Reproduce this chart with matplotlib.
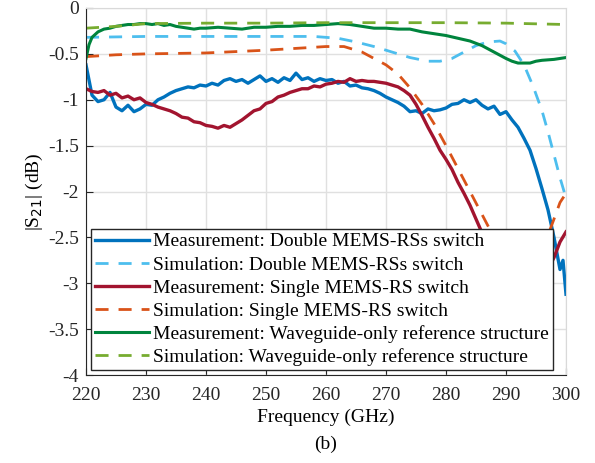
import matplotlib.pyplot as plt

plt.rcParams['font.family'] = ['Liberation Serif', 'DejaVu Serif']
plt.rcParams['axes.unicode_minus'] = False

# ----- data (frequency in GHz, |S21| in dB) -----
f_meas_double = [220, 221, 222, 223, 224, 225, 226, 227, 228, 229, 230, 231, 232, 233, 234,
                 235, 236, 237, 238, 239, 240, 241, 242, 243, 244, 245, 246, 247, 248, 249,
                 250, 251, 252, 253, 254, 255, 256, 257, 258, 259, 260, 261, 262, 263, 264,
                 265, 266, 267, 268, 269, 270, 271, 272, 273, 274, 275, 276, 277, 278, 279,
                 280, 281, 282, 283, 284, 285, 286, 287, 288, 289, 290, 291, 292, 293, 294,
                 295, 296, 297, 298, 299, 299.5, 300]
s21_meas_double = [-0.62, -0.95, -1.02, -1.00, -0.92, -1.08, -1.12, -1.06, -1.13, -1.10, -1.05,
                   -1.06, -1.00, -0.97, -0.93, -0.90, -0.88, -0.86, -0.87, -0.84, -0.85, -0.82,
                   -0.84, -0.79, -0.77, -0.80, -0.78, -0.82, -0.78, -0.74, -0.80, -0.77, -0.81,
                   -0.76, -0.79, -0.71, -0.78, -0.76, -0.80, -0.77, -0.79, -0.78, -0.82, -0.80,
                   -0.85, -0.84, -0.87, -0.88, -0.90, -0.93, -0.97, -1.00, -1.03, -1.07, -1.13,
                   -1.12, -1.15, -1.10, -1.12, -1.11, -1.09, -1.05, -1.04, -1.00, -1.03, -1.00,
                   -1.06, -1.10, -1.07, -1.16, -1.13, -1.22, -1.30, -1.42, -1.55, -1.75, -1.97,
                   -2.20, -2.50, -2.85, -2.75, -3.12]

f_sim_double = [220, 230, 240, 250, 258, 262, 265, 268, 271, 274, 277, 279, 281, 283, 285,
                287, 289, 290, 291.5, 293, 294.5, 296, 297, 298, 299, 300]
s21_sim_double = [-0.32, -0.31, -0.31, -0.31, -0.31, -0.33, -0.37, -0.42, -0.48, -0.54, -0.58,
                  -0.58, -0.55, -0.48, -0.41, -0.37, -0.36, -0.39, -0.47, -0.62, -0.85, -1.12,
                  -1.35, -1.60, -1.85, -2.07]

f_meas_single = list(range(220, 301))
s21_meas_single = [-0.88, -0.91, -0.92, -0.90, -0.95, -0.93, -0.98, -0.96, -1.00, -0.98, -1.03,
                   -1.05, -1.08, -1.10, -1.12, -1.15, -1.19, -1.20, -1.24, -1.25, -1.28, -1.29,
                   -1.31, -1.28, -1.30, -1.26, -1.22, -1.17, -1.12, -1.10, -1.04, -1.02, -0.97,
                   -0.95, -0.92, -0.90, -0.88, -0.88, -0.85, -0.86, -0.83, -0.82, -0.80, -0.81,
                   -0.77, -0.80, -0.79, -0.80, -0.80, -0.81, -0.82, -0.84, -0.86, -0.90, -0.95,
                   -1.05, -1.17, -1.30, -1.42, -1.55, -1.65, -1.76, -1.90, -2.02, -2.15, -2.30,
                   -2.45, -2.60, -2.75, -2.90, -3.00, -3.10, -3.15, -3.20, -3.20, -3.15, -3.05,
                   -2.85, -2.72, -2.55, -2.44]

f_sim_single = [220, 225, 230, 240, 250, 255, 260, 263, 266, 268, 270, 272, 274, 276, 278,
                280, 282, 284, 286, 288, 290, 292, 294, 296, 298, 299, 300]
s21_sim_single = [-0.53, -0.51, -0.50, -0.49, -0.46, -0.44, -0.42, -0.42, -0.48, -0.55, -0.62,
                  -0.72, -0.87, -1.05, -1.26, -1.50, -1.75, -2.00, -2.25, -2.50, -2.70, -2.80,
                  -2.80, -2.65, -2.30, -2.12, -2.02]

f_meas_wg = [220, 220.5, 221, 222, 223, 224, 225, 226, 227, 228, 229, 230, 231, 232, 233, 234,
             235, 236, 237, 238, 239, 240, 242, 244, 246, 248, 250, 252, 254, 256, 258, 260,
             262, 264, 266, 268, 270, 272, 274, 276, 278, 280, 282, 284, 286, 288, 290, 291,
             292, 293, 294, 295, 296, 298, 300]
s21_meas_wg = [-0.55, -0.40, -0.32, -0.26, -0.23, -0.22, -0.20, -0.19, -0.18, -0.18, -0.17,
               -0.17, -0.18, -0.17, -0.19, -0.18, -0.20, -0.21, -0.22, -0.23, -0.22, -0.22,
               -0.21, -0.22, -0.23, -0.21, -0.21, -0.20, -0.20, -0.19, -0.19, -0.18, -0.17,
               -0.18, -0.20, -0.22, -0.22, -0.23, -0.23, -0.26, -0.28, -0.30, -0.33, -0.36,
               -0.41, -0.48, -0.55, -0.58, -0.60, -0.60, -0.60, -0.58, -0.57, -0.56, -0.54]

f_sim_wg = [220, 225, 230, 240, 250, 260, 270, 280, 290, 300]
s21_sim_wg = [-0.22, -0.20, -0.17, -0.165, -0.165, -0.16, -0.16, -0.16, -0.165, -0.18]

xticks = [220, 230, 240, 250, 260, 270, 280, 290, 300]
yticks = [0, -0.5, -1, -1.5, -2, -2.5, -3, -3.5, -4]
ytick_labels = ['0', '-0.5', '-1', '-1.5', '-2', '-2.5', '-3', '-3.5', '-4']

# ----- plot -----
fig = plt.figure(figsize=(5.95, 4.63), dpi=100)
ax_left, ax_bottom, ax_w, ax_h = 86 / 595, 1 - 375 / 463, 480 / 595, 367 / 463
ax = fig.add_axes([ax_left, ax_bottom, ax_w, ax_h])

dash = (4.7, 3.6)
ax.plot(f_meas_double, s21_meas_double, color='#0072BD', lw=2.4,
        label='Measurement: Double MEMS-RSs switch')
ax.plot(f_sim_double, s21_sim_double, color='#4DBEEE', lw=2, dashes=dash,
        label='Simulation: Double MEMS-RSs switch')
ax.plot(f_meas_single, s21_meas_single, color='#A2142F', lw=2.4,
        label='Measurement: Single MEMS-RS switch')
ax.plot(f_sim_single, s21_sim_single, color='#D95319', lw=2, dashes=dash,
        label='Simulation: Single MEMS-RS switch')
ax.plot(f_meas_wg, s21_meas_wg, color='#00843D', lw=2.2,
        label='Measurement: Waveguide-only reference structure')
ax.plot(f_sim_wg, s21_sim_wg, color='#77AC30', lw=2, dashes=dash,
        label='Simulation: Waveguide-only reference structure')

ax.set_xlim(220, 300)
ax.set_ylim(-4, 0)
ax.set_xticks(xticks)
ax.set_yticks(yticks)
ax.set_yticklabels(ytick_labels)
ax.tick_params(direction='in', length=5, labelsize=14, colors='#262626')
ax.tick_params(axis='x', pad=9)
ax.tick_params(axis='y', pad=5)
ax.grid(True, color='#e0e0e0', lw=1)
ax.set_axisbelow(True)
for side in ['top', 'right']:
    ax.spines[side].set_color('#d9d9d9')
for side in ['left', 'bottom']:
    ax.spines[side].set_color('#262626')

ax.set_xlabel('Frequency (GHz)', fontsize=14, labelpad=3)
ax.set_ylabel('|S$_{21}$| (dB)', fontsize=14, labelpad=2)
fig.text(ax_left + ax_w / 2, 1 - 444 / 463, '(b)', ha='center', va='center', fontsize=14)

leg = ax.legend(loc='lower left', fontsize=14, handlelength=2.8, handletextpad=0.2,
                labelspacing=0.28, borderpad=0.2, borderaxespad=0.25,
                fancybox=False, framealpha=1, edgecolor='#262626')
leg.get_frame().set_linewidth(1)

fig.savefig('out.png', dpi=100)
